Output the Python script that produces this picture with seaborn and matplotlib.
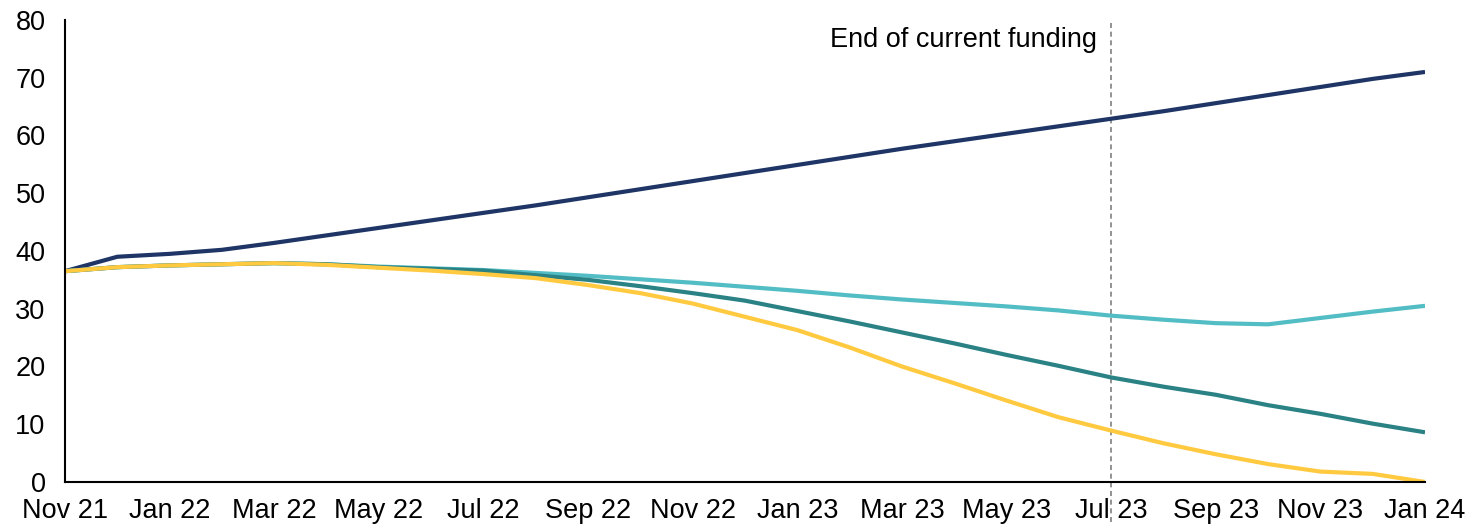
import matplotlib
matplotlib.use("Agg")
import matplotlib.pyplot as plt
import seaborn as sns
import pandas as pd

# Monthly periods, Nov 2021 to Jan 2024
months = ["Nov 21", "Dec 21", "Jan 22", "Feb 22", "Mar 22", "Apr 22", "May 22",
          "Jun 22", "Jul 22", "Aug 22", "Sep 22", "Oct 22", "Nov 22", "Dec 22",
          "Jan 23", "Feb 23", "Mar 23", "Apr 23", "May 23", "Jun 23", "Jul 23",
          "Aug 23", "Sep 23", "Oct 23", "Nov 23", "Dec 23", "Jan 24"]

trend = [36.5, 39.0, 39.5, 40.2, 41.4, 42.7, 44.0, 45.3, 46.6, 47.9, 49.3, 50.7,
         52.1, 53.5, 54.9, 56.3, 57.7, 59.0, 60.3, 61.6, 62.9, 64.2, 65.6, 67.0,
         68.4, 69.8, 71.0]
scenario_1 = [36.5, 37.2, 37.5, 37.7, 37.9, 37.7, 37.3, 37.0, 36.7, 36.2, 35.7, 35.1,
              34.5, 33.8, 33.1, 32.3, 31.6, 31.0, 30.4, 29.7, 28.8, 28.1, 27.5, 27.3,
              28.4, 29.5, 30.5]
scenario_2 = [36.5, 37.2, 37.5, 37.7, 37.9, 37.7, 37.2, 36.9, 36.6, 35.8, 35.0, 33.9,
              32.7, 31.4, 29.6, 27.8, 25.9, 24.0, 22.0, 20.1, 18.1, 16.5, 15.1, 13.3,
              11.8, 10.1, 8.6]
scenario_3 = [36.5, 37.2, 37.5, 37.7, 37.9, 37.6, 37.1, 36.6, 36.0, 35.3, 34.1, 32.7,
              30.9, 28.6, 26.3, 23.3, 20.0, 17.1, 14.1, 11.2, 8.9, 6.7, 4.8, 3.1,
              1.8, 1.4, 0.0]

series_names = ["Trend", "Scenario 1", "Scenario 2", "Scenario 3"]
series_values = [trend, scenario_1, scenario_2, scenario_3]
colors = ["#1F3566", "#52BDC4", "#2A8285", "#FFC940"]

funding_end = "Jul 23"
funding_label = "End of current funding"

rows = []
for name, vals in zip(series_names, series_values):
    for i, (m, v) in enumerate(zip(months, vals)):
        rows.append({"idx": i, "month": m, "value": v, "series": name})
df = pd.DataFrame(rows)

sns.set_theme(style="white")
plt.rcParams["font.family"] = ["Liberation Sans", "DejaVu Sans"]

fig = plt.figure(figsize=(14.7, 5.26), dpi=100)
ax = fig.add_axes([0.0442, 0.0837, 0.9252, 0.8783])

sns.lineplot(data=df, x="idx", y="value", hue="series", hue_order=series_names,
             palette=colors, linewidth=3.0, legend=False, ax=ax,
             solid_capstyle="butt")

ax.set_xlim(0, len(months) - 1)
ax.set_ylim(0, 80)
ax.set_yticks(range(0, 81, 10))
ax.set_xticks(range(0, len(months), 2))
ax.set_xticklabels(months[::2])
ax.set_xlabel("")
ax.set_ylabel("")

ax.tick_params(axis="both", length=0, labelsize=19.5, colors="black")
ax.tick_params(axis="x", pad=11.5)
ax.tick_params(axis="y", pad=14)

for side in ["top", "right"]:
    ax.spines[side].set_visible(False)
for side in ["left", "bottom"]:
    ax.spines[side].set_color("black")
    ax.spines[side].set_linewidth(1.5)

xf = months.index(funding_end)
ax.axvline(xf, ymin=-0.087, ymax=0.994, color="#808080", linewidth=1.2,
           linestyle=(0, (3, 2.2)), clip_on=False, zorder=1)
ax.annotate(funding_label, xy=(xf, 75.3), xytext=(-10, 0),
            textcoords="offset points", ha="right", va="baseline",
            fontsize=19.5, color="black")

fig.savefig("out.png", dpi=100)
